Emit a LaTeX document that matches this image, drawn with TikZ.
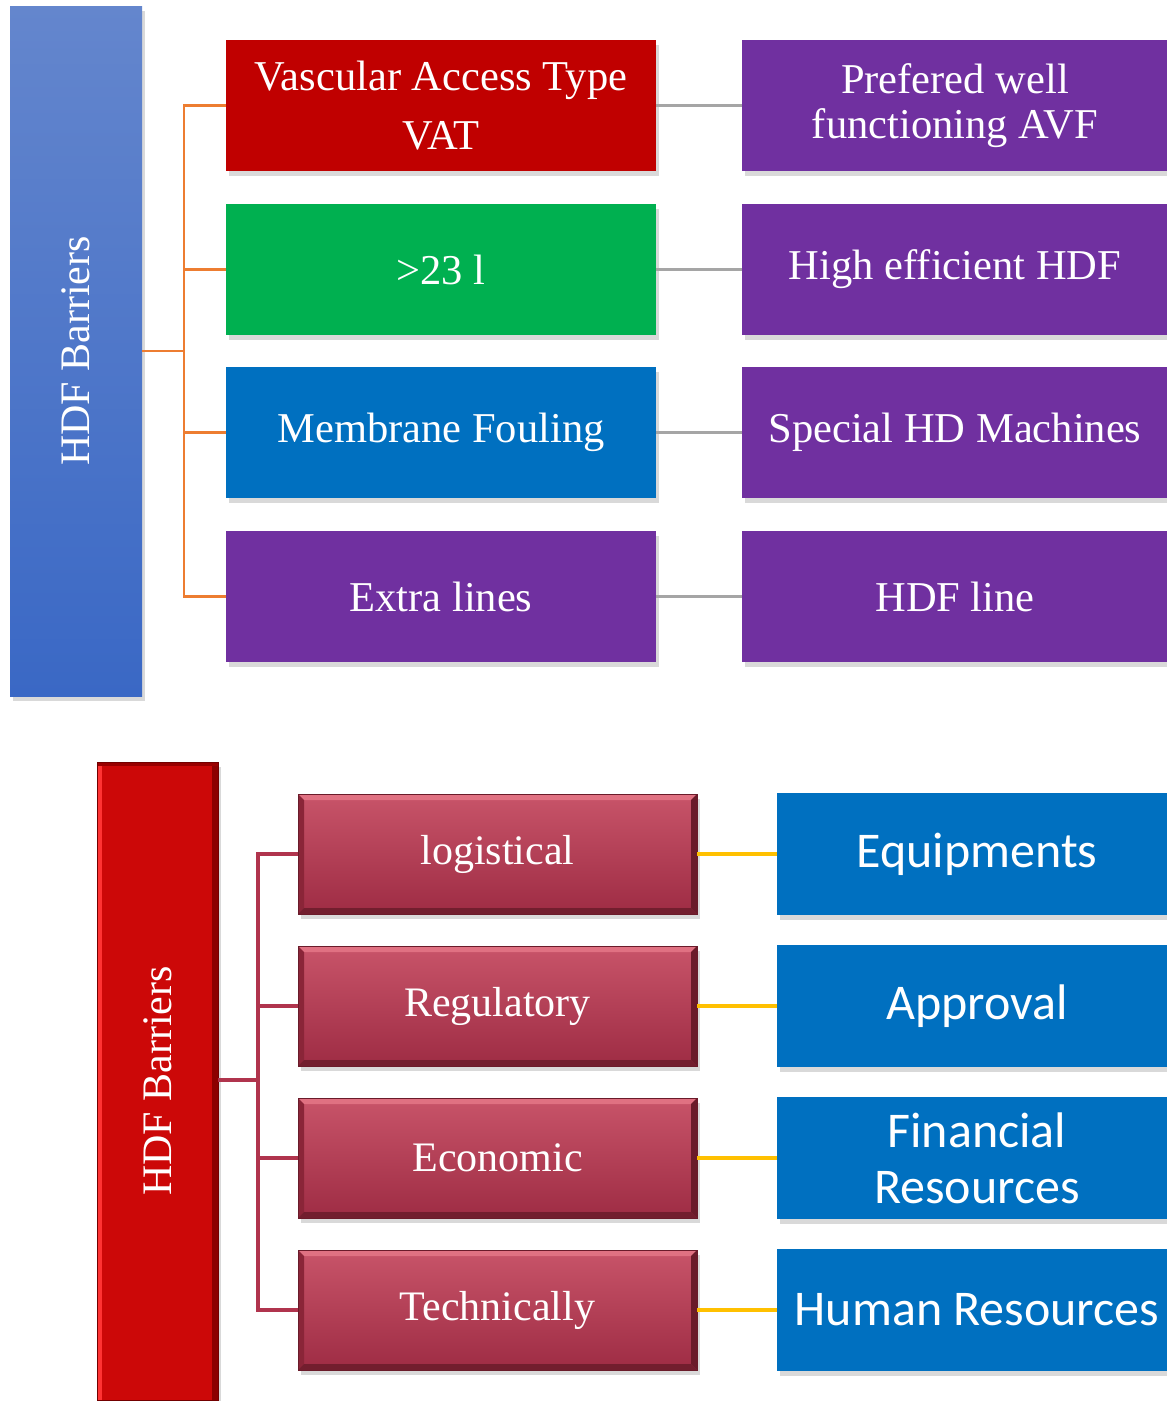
\documentclass[tikz,border=0pt]{standalone}
\usepackage{fontspec}
\setmainfont{Liberation Serif}
\newfontfamily\calfont{Carlito}
\usetikzlibrary{shadows}
\definecolor{vred}{HTML}{C00000}
\definecolor{vgreen}{HTML}{00B050}
\definecolor{vblue}{HTML}{0070C0}
\definecolor{vpurple}{HTML}{7030A0}
\definecolor{vorange}{HTML}{ED7D31}
\definecolor{vgray}{HTML}{A5A5A5}
\definecolor{vyellow}{HTML}{FFC000}
\definecolor{vmaroon}{HTML}{B0344D}
\definecolor{bartop}{HTML}{6486CD}
\definecolor{barbot}{HTML}{3A68C5}
\definecolor{bvtop}{HTML}{C85469}
\definecolor{bvbot}{HTML}{9E2C44}
\definecolor{bvlight}{HTML}{E07182}
\definecolor{bvdark}{HTML}{6A1B2A}
\definecolor{bvmid}{HTML}{8A2538}
\definecolor{redbar}{HTML}{CC0808}
\tikzset{
  shd/.style={drop shadow={shadow xshift=3pt, shadow yshift=-5pt, fill=black, opacity=0.15}},
  flatbox/.style={shd, rectangle, inner sep=0pt, outer sep=0pt, text=white, align=center},
  topbox/.style={flatbox, minimum width=430pt, minimum height=131pt, font=\fontsize{42.5}{59}\selectfont},
  rtopbox/.style={flatbox, fill=vpurple, minimum width=426pt, minimum height=131pt, font=\fontsize{42.5}{45}\selectfont},
  rbotbox/.style={flatbox, fill=vblue, minimum width=400pt, minimum height=122pt, font=\calfont\fontsize{50}{56}\selectfont},
  bevelbox/.style={shd, rectangle, inner sep=0pt, outer sep=0pt, text=white,
    top color=bvtop, bottom color=bvbot, draw=bvdark, line width=0.8pt,
    minimum width=399pt, minimum height=120pt, font=\fontsize{42}{50}\selectfont,
    path picture={
      \fill[bvlight] (path picture bounding box.north west) -- (path picture bounding box.north east)
        -- ([xshift=-6pt,yshift=-6pt]path picture bounding box.north east)
        -- ([xshift=6pt,yshift=-6pt]path picture bounding box.north west) -- cycle;
      \fill[bvmid] (path picture bounding box.north west) -- ([xshift=6pt,yshift=-6pt]path picture bounding box.north west)
        -- ([xshift=6pt,yshift=6pt]path picture bounding box.south west) -- (path picture bounding box.south west) -- cycle;
      \fill[bvdark] (path picture bounding box.north east) -- ([xshift=-6pt,yshift=-6pt]path picture bounding box.north east)
        -- ([xshift=-6pt,yshift=6pt]path picture bounding box.south east) -- (path picture bounding box.south east) -- cycle;
      \fill[bvdark!85!bvbot] (path picture bounding box.south west) -- ([xshift=6pt,yshift=6pt]path picture bounding box.south west)
        -- ([xshift=-6pt,yshift=6pt]path picture bounding box.south east) -- (path picture bounding box.south east) -- cycle;
    }},
  orangeline/.style={draw=vorange, line width=2.8pt},
  grayline/.style={draw=vgray, line width=2.8pt},
  yellowline/.style={draw=vyellow, line width=3.2pt},
  maroonline/.style={draw=vmaroon, line width=3.4pt}
}
\begin{document}
\begin{tikzpicture}[x=1pt, y=-1pt]
\useasboundingbox (0,0) rectangle (1167,1401);
\clip (0,0) rectangle (1167,1401);
\fill[white] (0,0) rectangle (1167,1401);

% ---------- top diagram ----------
\node[shd, rectangle, inner sep=0pt, outer sep=0pt, top color=bartop, bottom color=barbot,
      minimum width=132pt, minimum height=690pt] (bar1) at (76,351) {};
\node[text=white, rotate=90, font=\fontsize{42}{45}\selectfont] (bar1t) at (bar1.center) {HDF Barriers};

\node[topbox, fill=vred] (a1) at (441,105.5) {Vascular Access Type\\VAT};
\node[topbox, fill=vgreen] (a2) at (441,269.5) {{>}23 l};
\node[topbox, fill=vblue] (a3) at (441,432.5) {Membrane Fouling};
\node[topbox, fill=vpurple] (a4) at (441,596.5) {Extra lines};

\node[rtopbox] (b1) at (955,105.5) {Prefered well\\functioning AVF};
\node[rtopbox] (b2) at (955,269.5) {High efficient HDF};
\node[rtopbox] (b3) at (955,432.5) {Special HD Machines};
\node[rtopbox] (b4) at (955,596.5) {HDF line};

\coordinate (j1) at (184,351);
\draw[orangeline] (bar1.east) -- (j1);
\foreach \n in {a1,a2,a3,a4} { \draw[orangeline] (j1) |- (\n.west); }
\draw[grayline] (a1.east) -- (b1.west);
\draw[grayline] (a2.east) -- (b2.west);
\draw[grayline] (a3.east) -- (b3.west);
\draw[grayline] (a4.east) -- (b4.west);

% ---------- bottom diagram ----------
\node[shd, rectangle, inner sep=0pt, outer sep=0pt, fill=redbar, draw=red!45!black, line width=1pt,
      minimum width=121pt, minimum height=638pt,
      path picture={
        \fill[red!80!white] (path picture bounding box.north west) rectangle ([xshift=5pt]path picture bounding box.south west);
        \fill[red!55!black] ([xshift=-6pt]path picture bounding box.north east) rectangle (path picture bounding box.south east);
        \fill[red!60!black] (path picture bounding box.north west) rectangle ([yshift=-4pt]path picture bounding box.north east);
      }] (bar2) at (157.5,1081) {};
\node[text=white, rotate=90, font=\fontsize{42}{45}\selectfont] (bar2t) at (bar2.center) {HDF Barriers};

\node[bevelbox] (c1) at (497.5,854) {logistical};
\node[bevelbox] (c2) at (497.5,1006) {Regulatory};
\node[bevelbox] (c3) at (497.5,1158) {Economic};
\node[bevelbox] (c4) at (497.5,1310) {Technically};

\node[rbotbox] (d1) at (977,854) {Equipments};
\node[rbotbox] (d2) at (977,1006) {Approval};
\node[rbotbox] (d3) at (977,1158) {Financial\\Resources};
\node[rbotbox] (d4) at (977,1310) {Human Resources};

\coordinate (j2) at (258,1080);
\draw[maroonline] (bar2.east |- j2) -- (j2);
\foreach \n in {c1,c2,c3,c4} { \draw[maroonline] (j2) |- (\n.west); }
\draw[yellowline] (c1.east) -- (d1.west);
\draw[yellowline] (c2.east) -- (d2.west);
\draw[yellowline] (c3.east) -- (d3.west);
\draw[yellowline] (c4.east) -- (d4.west);
\end{tikzpicture}
\end{document}
